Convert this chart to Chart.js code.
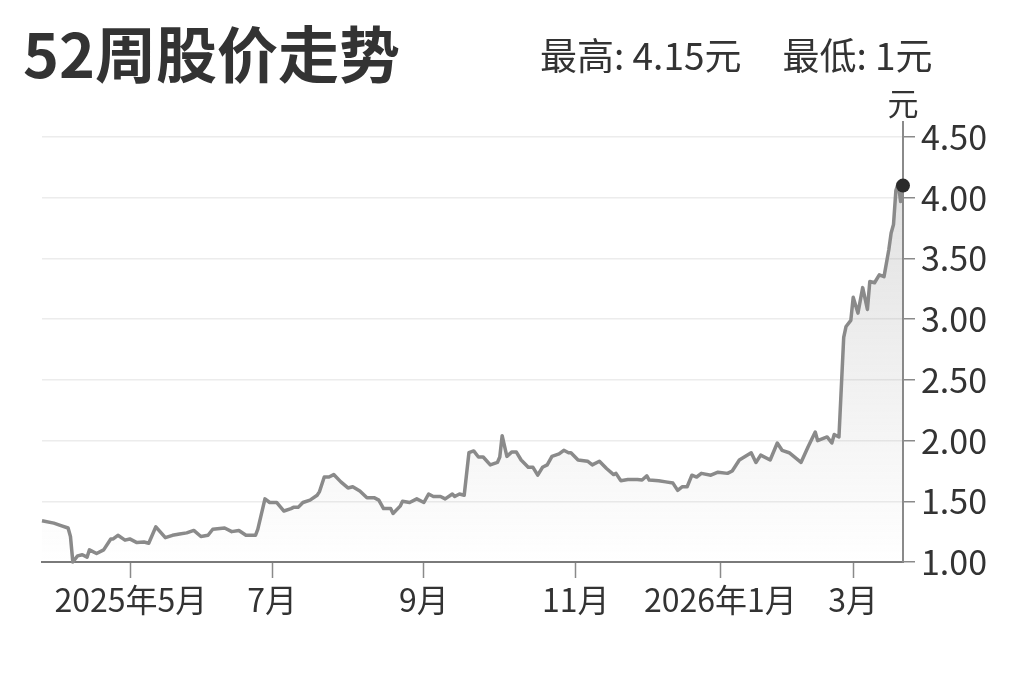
<!DOCTYPE html>
<html lang="zh-CN">
<head>
<meta charset="utf-8">
<title>52周股价走势</title>
<script src="https://cdn.jsdelivr.net/npm/chart.js@4.4.1/dist/chart.umd.min.js"></script>
<style>
    html, body {
        margin: 0;
        padding: 0;
        background: #fff;
        width: 1023px;
        height: 682px;
        overflow: hidden;
        font-family: "Noto Sans CJK SC", "Noto Sans", sans-serif;
        color: #333;
    }
    #wrap {
        position: relative;
        width: 1023px;
        height: 682px;
    }
    #title {
        position: absolute;
        left: 23px;
        top: 10px;
        font-size: 61px;
        font-weight: 700;
        line-height: 84px;
        color: #333;
    }
    #subtitle {
        position: absolute;
        left: 540px;
        top: 27px;
        font-size: 37px;
        line-height: 54px;
        color: #333;
        white-space: pre;
    }
    #subtitle span + span {
        margin-left: 41px;
    }
    #chartBox {
        position: absolute;
        left: 0;
        top: 0;
        width: 1023px;
        height: 682px;
    }
</style>
</head>
<body>
<div id="wrap">
    <div id="chartBox"><canvas id="priceChart"></canvas></div>
    <div id="title">52周股价走势</div>
    <div id="subtitle"><span>最高: 4.15元</span><span>最低: 1元</span></div>
</div>
<script>
// days since 2025-03-24 (first day of the 52-week window)
const days = [
    0, 5, 8, 11, 12, 13, 15, 17, 19, 20, 23, 26, 29, 30, 32, 35, 37, 40, 43, 45,
    48, 52, 55, 58, 61, 64, 67, 70, 72, 77, 80, 83, 86, 90, 91, 94, 96, 99, 102, 105,
    106, 108, 110, 113, 116, 117, 119, 121, 123, 126, 129, 131, 134, 137, 140, 142, 144, 147, 148, 151,
    152, 155, 158, 161, 163, 165, 168, 170, 173, 174, 176, 178, 180, 182, 184, 186, 189, 192, 193, 194,
    196, 198, 200, 202, 205, 207, 209, 211, 213, 215, 218, 220, 222, 223, 226, 230, 232, 235, 238, 241,
    242, 244, 247, 251, 253, 255, 256, 260, 263, 266, 268, 270, 272, 274, 276, 278, 282, 285, 289, 291,
    294, 299, 301, 303, 307, 310, 312, 315, 320, 323, 326, 327, 331, 333, 334, 336, 338, 339, 341, 342,
    344, 346, 348, 349, 351, 353, 355, 357, 358, 359, 360, 361, 362, 363
];

// closing price, 元
const prices = [
    1.34, 1.32, 1.30, 1.28, 1.21, 1.00, 1.05, 1.06, 1.04, 1.10, 1.07, 1.10, 1.19, 1.19, 1.22, 1.18, 1.19, 1.16, 1.165, 1.155,
    1.29, 1.20, 1.22, 1.23, 1.24, 1.26, 1.21, 1.22, 1.27, 1.28, 1.25, 1.26, 1.22, 1.22, 1.27, 1.52, 1.49, 1.49, 1.42, 1.44,
    1.45, 1.45, 1.49, 1.51, 1.55, 1.58, 1.70, 1.70, 1.72, 1.66, 1.61, 1.62, 1.585, 1.53, 1.53, 1.51, 1.44, 1.44, 1.40, 1.46,
    1.50, 1.49, 1.52, 1.49, 1.56, 1.54, 1.54, 1.52, 1.56, 1.54, 1.56, 1.55, 1.90, 1.915, 1.865, 1.865, 1.80, 1.82, 1.865, 2.04,
    1.87, 1.905, 1.905, 1.84, 1.78, 1.78, 1.715, 1.78, 1.80, 1.87, 1.89, 1.92, 1.90, 1.90, 1.84, 1.83, 1.80, 1.83, 1.77, 1.72,
    1.73, 1.67, 1.68, 1.68, 1.675, 1.71, 1.675, 1.67, 1.66, 1.65, 1.59, 1.62, 1.62, 1.715, 1.70, 1.73, 1.715, 1.74, 1.73, 1.75,
    1.84, 1.90, 1.82, 1.88, 1.84, 1.98, 1.92, 1.90, 1.82, 1.95, 2.07, 2.00, 2.03, 1.98, 2.05, 2.03, 2.85, 2.94, 2.99, 3.18,
    3.05, 3.26, 3.08, 3.31, 3.30, 3.365, 3.35, 3.57, 3.71, 3.78, 4.06, 4.12, 3.97, 4.10
];

const tickDays = [37.5, 97, 161, 225, 286, 342];
const tickLabels = ['2025年5月', '7月', '9月', '11月', '2026年1月', '3月'];
const yTicks = [1.00, 1.50, 2.00, 2.50, 3.00, 3.50, 4.00, 4.50];
const unitLabel = '元';

const points = days.map((d, i) => ({ x: d, y: prices[i] }));
const lastIndex = points.length - 1;

// unit label sitting above the right axis
const unitPlugin = {
    id: 'unitLabel',
    afterDraw(chart) {
        const ctx = chart.ctx;
        const area = chart.chartArea;
        ctx.save();
        ctx.font = '31px "Noto Sans CJK SC", "Noto Sans", sans-serif';
        ctx.fillStyle = '#333';
        ctx.textAlign = 'center';
        ctx.textBaseline = 'middle';
        ctx.fillText(unitLabel, area.right, area.top - 19);
        ctx.restore();
    }
};

const ctx = document.getElementById('priceChart').getContext('2d');
new Chart(ctx, {
    type: 'line',
    data: {
        datasets: [{
            label: '股价',
            data: points,
            borderColor: '#8a8a8a',
            borderWidth: 3.5,
            borderJoinStyle: 'round',
            tension: 0,
            clip: false,
            fill: 'start',
            backgroundColor: (c) => {
                const area = c.chart.chartArea;
                if (!area) return 'rgba(0,0,0,0)';
                const g = c.chart.ctx.createLinearGradient(0, area.top, 0, area.bottom);
                g.addColorStop(0, 'rgba(120,120,120,0.26)');
                g.addColorStop(1, 'rgba(120,120,120,0.0)');
                return g;
            },
            pointRadius: (c) => c.dataIndex === lastIndex ? 7 : 0,
            pointHoverRadius: 0,
            pointBackgroundColor: '#2b2b2b',
            pointBorderColor: '#2b2b2b',
            pointBorderWidth: 0
        }]
    },
    options: {
        responsive: true,
        maintainAspectRatio: false,
        animation: false,
        layout: {
            padding: { left: 42, top: 122, right: 0, bottom: 0 }
        },
        plugins: {
            legend: { display: false },
            tooltip: { enabled: false }
        },
        scales: {
            x: {
                type: 'linear',
                min: 0,
                max: 363,
                afterBuildTicks: (scale) => {
                    scale.ticks = tickDays.map(v => ({ value: v }));
                },
                afterFit: (scale) => { scale.height = 120; },
                grid: {
                    drawOnChartArea: false,
                    drawTicks: true,
                    tickLength: 16,
                    tickColor: '#8a8a8a',
                    tickWidth: 1.5
                },
                border: { display: true, color: '#7a7a7a', width: 2 },
                ticks: {
                    autoSkip: false,
                    maxRotation: 0,
                    padding: 3,
                    color: '#333',
                    font: { family: '"Noto Sans CJK SC", "Noto Sans", sans-serif', size: 32 },
                    callback: (v, i) => tickLabels[i]
                }
            },
            y: {
                position: 'right',
                min: 1,
                max: 4.624,
                afterBuildTicks: (scale) => {
                    scale.ticks = yTicks.map(v => ({ value: v }));
                },
                afterFit: (scale) => { scale.width = 120; },
                grid: {
                    color: '#ececec',
                    lineWidth: 1.5,
                    drawTicks: true,
                    tickLength: 12,
                    tickColor: '#8a8a8a',
                    tickWidth: 1.5
                },
                border: { display: true, color: '#8a8a8a', width: 2 },
                ticks: {
                    padding: 6,
                    color: '#333',
                    font: { family: '"Noto Sans CJK SC", "Noto Sans", sans-serif', size: 34 },
                    callback: (v) => Number(v).toFixed(2)
                }
            }
        }
    },
    plugins: [unitPlugin]
});
</script>
</body>
</html>
